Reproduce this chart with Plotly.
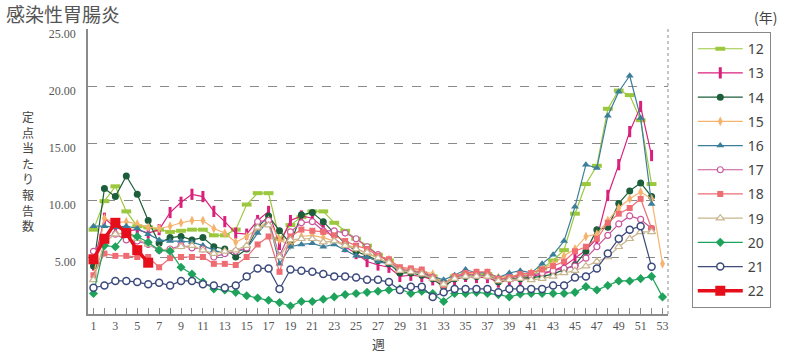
import plotly.graph_objects as go

weeks = list(range(1, 54))

s12 = [7.4, 9.9, 11.2, 9.0, 7.7, 7.6, 7.4, 7.2, 7.3, 7.4, 7.4, 6.9, 6.9, 7.4, 9.6, 10.6, 10.6, 6.6, 7.8, 8.5,
       9.0, 9.0, 8.0, 7.3, 6.6, 6.0, 5.2, 4.7, 3.9, 3.7, 3.6, 3.3, 2.7, 3.3, 3.5, 3.4, 3.5, 3.0, 3.2, 3.3,
       3.3, 4.0, 4.7, 5.6, 8.8, 11.4, 13.0, 18.0, 19.6, 19.2, 17.0, 11.4, None]
s13 = [4.3, 8.4, 7.6, 7.3, 7.4, 7.1, 7.4, 8.9, 9.8, 10.5, 10.3, 9.0, 8.1, 7.1, 7.0, 8.2, 9.0, 6.1, 8.2, 8.6,
       8.4, 7.6, 6.6, 5.9, 5.3, 4.6, 4.3, 4.1, 3.3, 3.4, 3.3, 3.0, 2.5, 3.0, 3.3, 3.2, 3.2, 2.8, 3.0, 3.0,
       3.3, 3.5, 3.8, 4.2, 4.9, 5.6, 6.6, 10.4, 13.1, 16.0, 18.2, 13.9, None]
s14 = [4.2, 11.0, 10.3, 12.1, 10.5, 8.2, 6.2, 6.7, 6.8, 6.5, 6.7, 5.9, 5.7, 5.0, 5.7, 7.6, 8.6, 7.3, 6.2, 8.7,
       8.9, 8.1, 7.1, 6.2, 5.5, 5.1, 4.7, 4.4, 3.6, 3.6, 3.4, 3.1, 2.4, 3.1, 3.3, 3.3, 3.4, 2.8, 3.1, 3.1,
       3.2, 3.3, 3.5, 3.9, 4.3, 5.5, 7.4, 7.6, 9.7, 10.8, 11.5, 10.3, None]
s15 = [3.3, 8.4, 8.0, 8.1, 7.9, 7.6, 7.5, 7.7, 8.0, 8.2, 8.2, 7.5, 7.1, 6.3, 6.8, 7.5, 8.2, 6.5, 6.0, 6.8,
       6.9, 6.7, 6.4, 6.1, 5.8, 5.2, 5.0, 4.8, 4.0, 3.9, 3.8, 3.5, 2.7, 3.3, 3.5, 3.6, 3.6, 3.2, 3.4, 3.3,
       3.6, 4.0, 4.4, 5.1, 5.7, 6.8, 7.0, 8.2, 9.3, 10.1, 10.7, 10.1, 4.4]
s16 = [7.7, 7.7, 7.6, 7.7, 7.5, 7.0, 6.5, 6.4, 6.4, 6.3, 6.0, 5.6, 5.3, 5.5, 5.7, 7.1, 8.2, 4.4, 5.9, 6.1,
       6.2, 5.9, 6.1, 5.6, 5.1, 5.0, 4.6, 4.4, 3.8, 3.7, 3.6, 3.3, 3.0, 3.4, 3.9, 3.6, 3.6, 3.2, 3.6, 3.8,
       3.6, 4.4, 5.2, 6.4, 9.4, 13.1, 12.8, 17.4, 19.5, 20.9, 17.2, 9.65, None]
s17 = [5.5, 6.7, 7.0, 6.5, 6.4, 6.1, 5.6, 5.7, 6.0, 5.8, 5.7, 5.0, 5.3, 5.5, 5.8, 8.1, 8.2, 5.1, 7.2, 8.0,
       8.1, 7.3, 7.3, 7.1, 6.6, 5.9, 5.2, 4.6, 3.9, 3.8, 3.6, 3.2, 2.6, 3.2, 3.5, 3.4, 3.3, 3.0, 3.2, 3.3,
       3.4, 3.6, 3.8, 4.0, 4.2, 4.9, 5.9, 6.9, 7.9, 8.6, 8.3, 7.5, None]
s18 = [3.4, 5.3, 5.1, 5.1, 5.0, 5.0, 4.1, 4.9, 5.0, 5.0, 5.0, 4.4, 4.4, 4.3, 5.0, 6.1, 6.8, 3.7, 6.8, 7.4,
       7.3, 7.2, 6.9, 6.4, 6.0, 5.7, 5.1, 4.8, 4.1, 4.0, 3.9, 3.2, 2.5, 3.3, 3.6, 3.7, 3.7, 3.1, 3.2, 3.5,
       3.6, 3.9, 4.2, 4.6, 5.5, 5.9, 6.6, 8.0, 8.8, 9.3, 10.1, 7.5, None]
s19 = [3.0, 6.3, 7.0, 7.1, 6.6, 6.1, 5.7, 5.6, 5.9, 6.0, 5.6, 5.3, 5.5, 5.6, 6.0, 7.6, 7.8, 5.0, 6.5, 6.6,
       6.6, 6.3, 6.4, 6.0, 5.7, 5.4, 4.9, 4.5, 3.8, 3.7, 3.5, 3.1, 2.6, 3.1, 3.3, 3.3, 3.3, 2.9, 3.0, 3.1,
       3.0, 3.1, 3.3, 3.6, 3.8, 4.2, 4.6, 5.0, 5.9, 6.6, 7.2, 7.2, None]
s20 = [1.8, 6.0, 5.9, 7.1, 6.8, 6.3, 5.6, 5.5, 4.1, 3.5, 2.8, 2.2, 2.1, 1.9, 1.6, 1.4, 1.2, 1.0, 0.7, 1.1,
       1.1, 1.3, 1.5, 1.7, 1.8, 1.9, 2.0, 2.1, 2.2, 1.8, 2.0, 1.8, 1.1, 1.8, 1.8, 1.9, 1.8, 1.7, 1.5, 1.75,
       1.8, 1.8, 1.8, 1.8, 1.9, 2.4, 2.1, 2.5, 2.9, 2.9, 3.1, 3.3, 1.5]
s21 = [2.3, 2.5, 2.9, 2.9, 2.8, 2.6, 2.75, 2.5, 2.9, 2.9, 2.6, 2.5, 2.3, 2.5, 3.3, 4.0, 4.0, 2.2, 3.9, 3.8,
       3.7, 3.5, 3.3, 3.3, 3.2, 3.0, 3.0, 2.8, 2.1, 2.4, 2.4, 1.5, 1.9, 2.2, 2.2, 2.2, 2.2, 1.9, 2.2, 2.2,
       2.2, 2.2, 2.5, 2.5, 3.2, 3.3, 4.0, 5.3, 6.6, 7.4, 7.7, 4.15, None]
s22 = [4.8, 6.6, 8.0, 7.1, 5.6, 4.5] + [None] * 47

series_names = ["12", "13", "14", "15", "16", "17", "18", "19", "20", "21", "22"]
series_values = [s12, s13, s14, s15, s16, s17, s18, s19, s20, s21, s22]

y_tick_vals = [5, 10, 15, 20, 25]
y_tick_text = ["5.00", "10.00", "15.00", "20.00", "25.00"]
x_tick_text = [str(w) if w % 2 == 1 else "" for w in weeks]

styles = {
    "12": dict(color="#9CC83F", marker=dict(symbol="line-ew", size=7, line=dict(width=4, color="#9CC83F")), width=1.2),
    "13": dict(color="#D9207A", marker=dict(symbol="line-ns", size=8, line=dict(width=3, color="#D9207A")), width=1.2),
    "14": dict(color="#1D5E3A", marker=dict(symbol="circle", size=7, color="#1D5E3A"), width=1.2),
    "15": dict(color="#F5B36E", marker=dict(symbol="diamond-tall", size=7, color="#F5B36E"), width=1.2),
    "16": dict(color="#3B7E9A", marker=dict(symbol="triangle-up", size=7, color="#3B7E9A"), width=1.2),
    "17": dict(color="#C8559A", marker=dict(symbol="circle", size=6, color="white", line=dict(width=1.2, color="#C8559A")), width=1.2),
    "18": dict(color="#EE6C72", marker=dict(symbol="square", size=6, color="#EE6C72"), width=1.2),
    "19": dict(color="#C9B58E", marker=dict(symbol="triangle-up", size=7, color="white", line=dict(width=1.2, color="#C9B58E")), width=1.2),
    "20": dict(color="#1FA35C", marker=dict(symbol="diamond", size=7, color="#1FA35C"), width=1.2),
    "21": dict(color="#3C4A7C", marker=dict(symbol="circle", size=7, color="white", line=dict(width=1.5, color="#3C4A7C")), width=1.2),
    "22": dict(color="#E60E1A", marker=dict(symbol="square", size=10, color="#E60E1A"), width=3.5),
}

fig = go.Figure()
for name, vals in zip(series_names, series_values):
    st = styles[name]
    fig.add_trace(go.Scatter(
        x=weeks, y=vals, name=name, mode="lines+markers", legendgroup=name,
        line=dict(color=st["color"], width=st["width"]),
        marker=st["marker"], connectgaps=False,
    ))

grid_col = "#8a8a8a"
fig.update_layout(
    width=800, height=352,
    margin=dict(l=88, r=132, t=29, b=38),
    paper_bgcolor="white", plot_bgcolor="white",
    showlegend=True,
    legend=dict(
        x=1.041, y=0.989, xanchor="left", yanchor="top",
        bordercolor="#888", borderwidth=1, bgcolor="white",
        font=dict(family="Noto Sans", size=14, color="#444"),
        tracegroupgap=3, itemwidth=45,
    ),
    xaxis=dict(
        range=[0.5, 53.5], tickmode="array", tickvals=weeks, ticktext=x_tick_text,
        ticks="inside", ticklen=6, tickcolor=grid_col, tickwidth=1,
        showline=True, linecolor=grid_col, linewidth=1.5, showgrid=False, zeroline=False,
        tickfont=dict(family="Liberation Serif", size=12, color="#555"),
    ),
    yaxis=dict(
        range=[0, 25], tickmode="array", tickvals=y_tick_vals, ticktext=y_tick_text,
        showgrid=True, gridcolor=grid_col, griddash="dash", gridwidth=1,
        showline=True, linecolor=grid_col, linewidth=1.5, zeroline=False, ticks="",
        ticklabelstandoff=8, ticklabelshift=5,
        tickfont=dict(family="Liberation Serif", size=12, color="#555"),
    ),
)

fig.add_shape(type="line", xref="paper", yref="paper", x0=1, x1=1, y0=0, y1=1,
              line=dict(color=grid_col, width=1, dash="dot"))

fig.add_annotation(text="感染性胃腸炎", xref="paper", yref="paper", x=-0.145, y=(314 - 13) / 285,
                   xanchor="left", yanchor="middle", showarrow=False,
                   font=dict(family="Noto Sans CJK JP", size=19, color="#555"))
fig.add_annotation(text="(年)", x=(765 - 88) / 580, y=(314 - 17) / 285, xref="paper", yref="paper",
                   xanchor="center", yanchor="middle", showarrow=False,
                   font=dict(family="Noto Sans CJK JP", size=14, color="#444"))
fig.add_annotation(text="週", x=0.5, y=(314 - 343) / 285, xref="paper", yref="paper",
                   xanchor="center", yanchor="middle", showarrow=False,
                   font=dict(family="Noto Sans CJK JP", size=13, color="#444"))

ytitle = "定点当たり報告数"
fig.add_annotation(text="<br>".join(ytitle), xref="paper", yref="paper",
                   x=(28 - 88) / 580, y=(314 - 171) / 285,
                   xanchor="center", yanchor="middle", showarrow=False,
                   font=dict(family="Noto Sans CJK JP", size=12, color="#444"))

fig.write_html("out.html")
